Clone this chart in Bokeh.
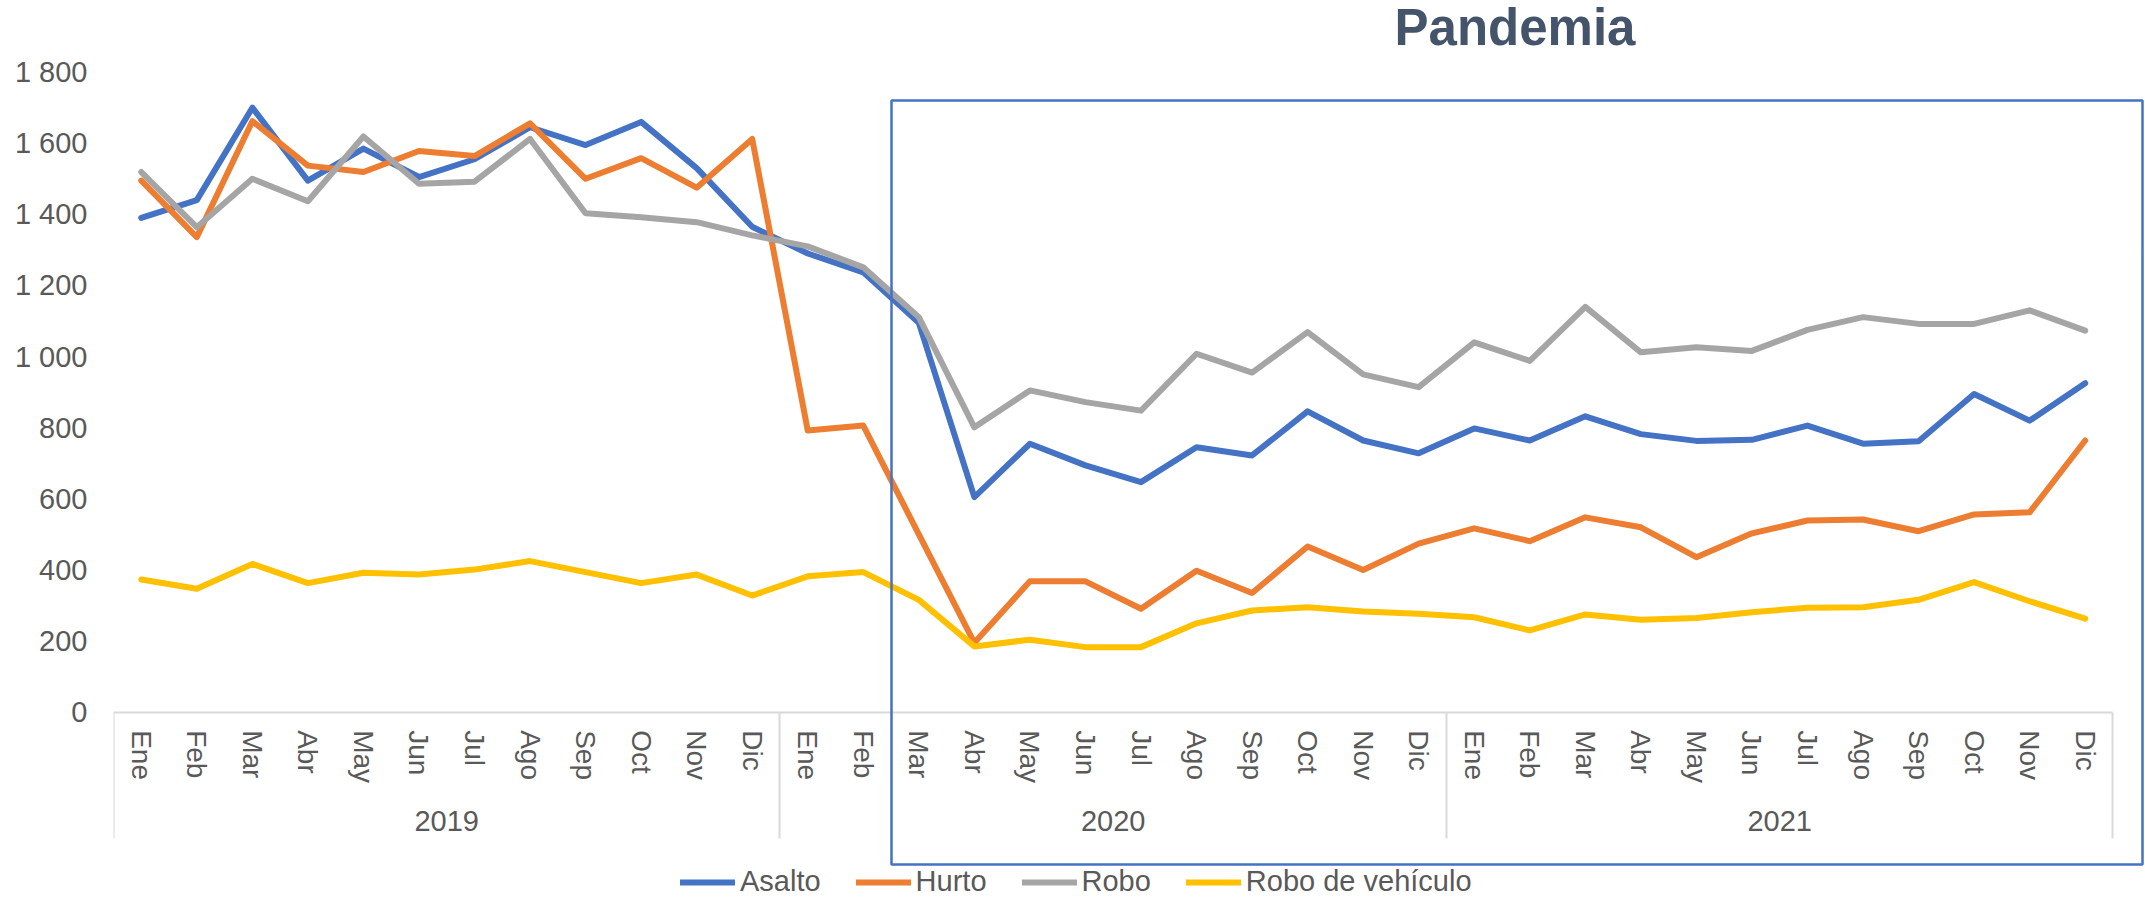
from bokeh.plotting import figure
from bokeh.models import (Range1d, LinearAxis, FixedTicker, Legend, LegendItem,
                          BoxAnnotation, Label)
from bokeh.embed import file_html
from bokeh.resources import INLINE

months = ["Ene", "Feb", "Mar", "Abr", "May", "Jun", "Jul", "Ago", "Sep", "Oct", "Nov", "Dic"]
years = ["2019", "2020", "2021"]

asalto = [1390, 1440, 1700, 1495, 1585, 1505, 1555, 1645, 1595, 1660, 1530, 1365,
          1290, 1237, 1095, 605, 755, 694, 647, 745, 722, 846, 764, 728,
          798, 764, 832, 782, 763, 766, 806, 755, 762, 895, 820, 925]
hurto = [1495, 1336, 1662, 1537, 1519, 1578, 1564, 1656, 1500, 1558, 1475, 1612,
         792, 806, 500, 195, 368, 368, 291, 398, 335, 466, 400, 474,
         517, 481, 548, 520, 436, 503, 539, 542, 509, 556, 562, 764]
robo = [1519, 1364, 1500, 1437, 1619, 1486, 1492, 1612, 1403, 1392, 1378, 1341,
        1310, 1251, 1111, 801, 905, 872, 848, 1008, 955, 1069, 950, 914,
        1040, 988, 1140, 1012, 1026, 1016, 1075, 1111, 1092, 1092, 1130, 1073]
robo_vehiculo = [373, 347, 417, 363, 392, 387, 401, 425, 394, 363, 387, 328,
                 382, 394, 316, 185, 204, 183, 183, 250, 286, 295, 283, 277,
                 267, 230, 275, 260, 265, 281, 294, 295, 316, 366, 312, 263]

series_names = ["Asalto", "Hurto", "Robo", "Robo de vehículo"]
series_colors = ["#4472C4", "#ED7D31", "#A5A5A5", "#FFC000"]
y_ticks = [0, 200, 400, 600, 800, 1000, 1200, 1400, 1600, 1800]

FONT = "Liberation Sans"
TXT = "#595959"
AXIS_GREY = "#D9D9D9"

W, H = 2145, 899
n = len(months) * len(years)
xs = list(range(n))
month_labels = months * len(years)

# layout (pixels)
frame_left = 113
cat_w = 55.54          # px per month
zero_px = 711.7        # y pixel of value 0
px_per_unit = 0.3556   # px per crime

x_start = -0.5
x_end = x_start + (W - frame_left) / cat_w
y_end = zero_px / px_per_unit
y_start = -(H - zero_px) / px_per_unit

p = figure(width=W, height=H, output_backend="svg", toolbar_location=None,
           x_range=Range1d(x_start, x_end), y_range=Range1d(y_start, y_end),
           x_axis_location=None,
           min_border_left=frame_left, min_border_right=0, min_border_top=0, min_border_bottom=0)
p.outline_line_color = None
p.xgrid.visible = False
p.ygrid.visible = False
p.background_fill_color = "white"
p.border_fill_color = "white"

# y axis
ya = p.yaxis[0]
ya.ticker = FixedTicker(ticks=y_ticks)
ya.major_label_overrides = {v: f"{v:,}".replace(",", " ") for v in y_ticks}
ya.axis_line_color = None
ya.major_tick_line_color = None
ya.minor_tick_line_color = None
ya.major_tick_out = 0
ya.major_tick_in = 0
ya.minor_tick_out = 0
ya.minor_tick_in = 0
ya.major_label_standoff = 26
ya.major_label_text_font = FONT
ya.major_label_text_font_size = "29px"
ya.major_label_text_color = TXT

sep_positions = [i * len(months) - 0.5 for i in range(len(years) + 1)]

# group separators
xs_sep = LinearAxis(ticker=FixedTicker(ticks=[], minor_ticks=sep_positions), fixed_location=0)
xs_sep.axis_line_color = None
xs_sep.major_tick_line_color = None
xs_sep.minor_tick_in = 0
xs_sep.minor_tick_out = 126
xs_sep.minor_tick_line_color = AXIS_GREY
xs_sep.minor_tick_line_width = 2
xs_sep.major_label_text_font_size = "0px"
p.add_layout(xs_sep, "below")

# month axis
xa1 = LinearAxis(ticker=FixedTicker(ticks=xs), fixed_location=0, bounds=(-0.5, n - 0.5))
xa1.major_label_overrides = {i: lab for i, lab in zip(xs, month_labels)}
xa1.axis_line_color = AXIS_GREY
xa1.axis_line_width = 2
xa1.major_tick_line_color = None
xa1.minor_tick_line_color = None
xa1.major_tick_out = 0
xa1.major_tick_in = 0
xa1.major_label_standoff = 18
xa1.major_label_orientation = "vertical"
xa1.major_label_text_font = FONT
xa1.major_label_text_font_size = "28px"
xa1.major_label_text_color = TXT
p.add_layout(xa1, "below")

# year axis
year_centers = [i * len(months) + (len(months) - 1) / 2 for i in range(len(years))]
xa2 = LinearAxis(ticker=FixedTicker(ticks=year_centers), fixed_location=0)
xa2.major_label_overrides = {c: y for c, y in zip(year_centers, years)}
xa2.axis_line_color = None
xa2.major_tick_line_color = None
xa2.minor_tick_line_color = None
xa2.major_tick_out = 0
xa2.major_tick_in = 0
xa2.major_label_standoff = 99
xa2.major_label_text_font = FONT
xa2.major_label_text_font_size = "29px"
xa2.major_label_text_color = TXT
p.add_layout(xa2, "below")

renderers = []
for name, col, data in zip(series_names, series_colors, [asalto, hurto, robo, robo_vehiculo]):
    r = p.line(xs, data, line_color=col, line_width=6, line_join="round", line_cap="round")
    renderers.append(r)

legend = Legend(items=[LegendItem(label=nm, renderers=[r]) for nm, r in zip(series_names, renderers)],
                orientation="horizontal", location=(567, 1),
                glyph_width=55, glyph_height=30, label_height=30, label_standoff=5, spacing=35,
                padding=0, margin=0, border_line_color=None, background_fill_alpha=0,
                label_text_font=FONT, label_text_font_size="29px", label_text_color=TXT)
p.add_layout(legend)

# Pandemia frame and title
box = BoxAnnotation(left=891, right=2142, top=100, bottom=864,
                    left_units="canvas", right_units="canvas", top_units="canvas", bottom_units="canvas",
                    fill_alpha=0, line_color="#4472C4", line_width=2.5, line_alpha=1)
p.add_layout(box)

title = Label(x=1394, y=27, x_units="canvas", y_units="canvas", text="Pandemia",
              text_font=FONT, text_font_style="bold", text_font_size="51px",
              text_color="#44546A", text_align="left", text_baseline="alphabetic")
p.add_layout(title)

open("out.html", "w").write(file_html(p, INLINE))
